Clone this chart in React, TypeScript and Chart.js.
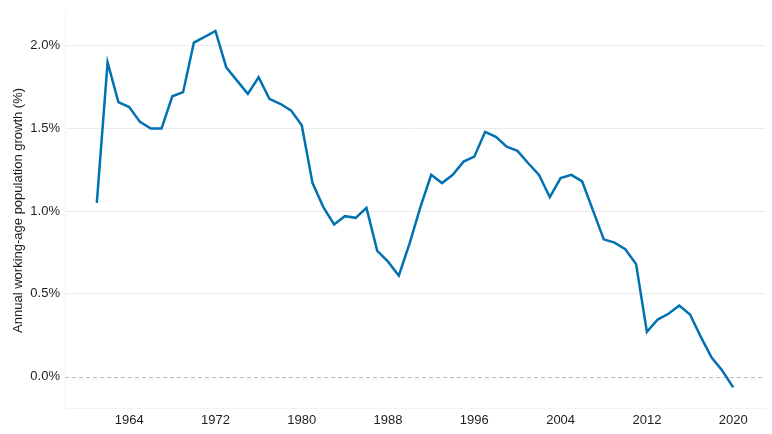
import { useEffect, useRef } from "react";
import { Chart, registerables } from "chart.js";

Chart.register(...registerables);

const years = Array.from({ length: 60 }, (_, i) => 1961 + i);
const growth = [
  1.05, 1.9, 1.66, 1.63, 1.54, 1.5, 1.5, 1.695, 1.72, 2.02,
  2.055, 2.09, 1.87, 1.79, 1.71, 1.81, 1.68, 1.65, 1.61, 1.52,
  1.17, 1.025, 0.92, 0.97, 0.96, 1.02, 0.76, 0.695, 0.61, 0.805,
  1.025, 1.22, 1.17, 1.22, 1.3, 1.33, 1.48, 1.45, 1.39, 1.365,
  1.29, 1.22, 1.085, 1.2, 1.22, 1.18, 1.005, 0.83, 0.81, 0.77,
  0.68, 0.27, 0.345, 0.38, 0.43, 0.375, 0.24, 0.115, 0.035, -0.065,
];
const xTicks = [1964, 1972, 1980, 1988, 1996, 2004, 2012, 2020];
const yTicks = [0, 0.5, 1, 1.5, 2];

const FONT = "'Liberation Sans', Arial, sans-serif";

const zeroLine = {
  id: "zeroLine",
  beforeDatasetsDraw(chart: Chart) {
    const { ctx, chartArea, scales } = chart;
    const y = Math.round(scales.y.getPixelForValue(0)) + 0.5;
    ctx.save();
    ctx.strokeStyle = "#bdbdbd";
    ctx.lineWidth = 1;
    ctx.setLineDash([4, 3]);
    ctx.beginPath();
    ctx.moveTo(chartArea.left, y);
    ctx.lineTo(chartArea.right, y);
    ctx.stroke();
    ctx.restore();
  },
};

export default function App() {
  const canvasRef = useRef<HTMLCanvasElement>(null);
  const chartRef = useRef<Chart | null>(null);

  useEffect(() => {
    if (!canvasRef.current) return;
    chartRef.current?.destroy();
    chartRef.current = new Chart(canvasRef.current, {
      type: "line",
      data: {
        datasets: [
          {
            label: "Working-age population growth",
            data: years.map((yr, i) => ({ x: yr, y: growth[i] })),
            borderColor: "#0072B2",
            borderWidth: 2.5,
            pointRadius: 0,
            tension: 0,
            fill: false,
          },
        ],
      },
      options: {
        animation: false,
        responsive: true,
        maintainAspectRatio: false,
        layout: { padding: { top: 9, right: 7, left: 0, bottom: 0 } },
        plugins: {
          legend: { display: false },
          tooltip: { enabled: false },
        },
        scales: {
          x: {
            type: "linear",
            min: 1958.05,
            max: 2022.95,
            afterBuildTicks: (scale) => {
              scale.ticks = xTicks.map((v) => ({ value: v }));
            },
            afterFit: (scale) => {
              scale.height = 26;
            },
            grid: { display: false, drawTicks: false },
            border: { display: true, color: "#f3f3f3" },
            ticks: {
              padding: 5,
              color: "#1e1e1e",
              font: { family: FONT, size: 13 },
              maxRotation: 0,
              callback: (v) => String(v),
            },
          },
          y: {
            min: -0.19,
            max: 2.2,
            afterBuildTicks: (scale) => {
              scale.ticks = yTicks.map((v) => ({ value: v }));
            },
            afterFit: (scale) => {
              scale.width = 65;
            },
            grid: {
              drawTicks: false,
              color: (c) => (c.tick && c.tick.value === 0 ? "rgba(0,0,0,0)" : "#ebebeb"),
            },
            border: { display: true, color: "#f3f3f3" },
            ticks: {
              padding: 5,
              color: "#1e1e1e",
              font: { family: FONT, size: 13 },
              callback: (v) => Number(v).toFixed(1) + "%",
            },
            title: {
              display: true,
              text: "Annual working-age population growth (%)",
              color: "#1a1a1a",
              font: { family: FONT, size: 13 },
              padding: { top: 11, bottom: 0 },
            },
          },
        },
      },
      plugins: [zeroLine],
    });
    return () => chartRef.current?.destroy();
  }, []);

  return (
    <div style={{ position: "fixed", left: 0, top: 0, width: 772, height: 434, background: "#fff" }}>
      <canvas
        ref={canvasRef}
        role="img"
        aria-label="Line chart of annual working-age population growth, 1961–2020"
      />
    </div>
  );
}
